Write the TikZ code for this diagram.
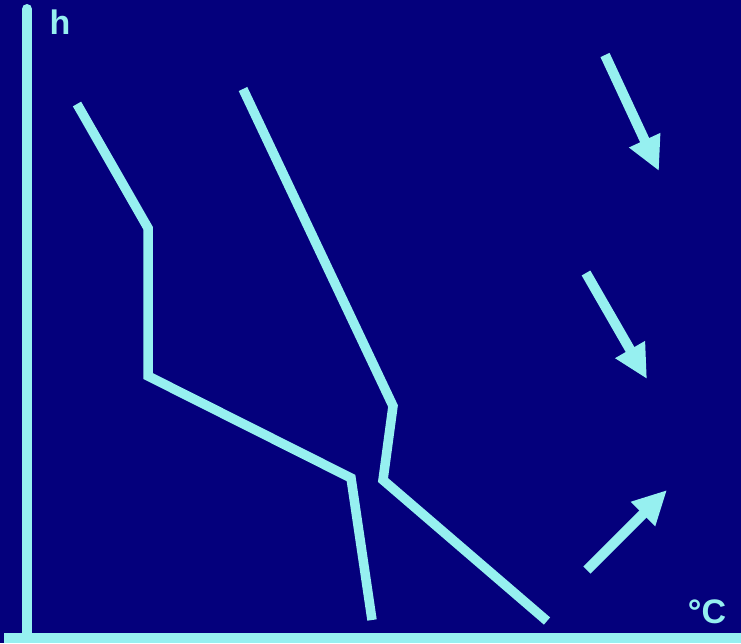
\documentclass[tikz,border=0pt]{standalone}
\usepackage{fontspec}
\setmainfont{Liberation Sans}
\usetikzlibrary{arrows.meta}
\definecolor{bgnavy}{RGB}{4,0,124}
\definecolor{lcyan}{RGB}{150,240,240}
\begin{document}
\begin{tikzpicture}[x=1pt,y=-1pt,
  curve/.style={draw=lcyan,line width=9.5pt,line join=miter,line cap=butt},
  axisline/.style={draw=lcyan,line width=10pt},
  wind/.style={draw=lcyan,line width=10pt,-{Triangle[length=34pt,width=32pt,fill=lcyan]}},
  lbl/.style={text=lcyan,font=\fontsize{34}{34}\selectfont\bfseries,inner sep=0pt}]
\fill[bgnavy] (0,0) rectangle (741,643);
\useasboundingbox (0,0) rectangle (741,643);
% axes
\coordinate (ytop) at (27,9);
\coordinate (origin) at (27,638);
\coordinate (xleft) at (4,638);
\coordinate (xright) at (741,638);
\draw[axisline,line cap=round] (ytop) -- ([yshift=5pt]origin);
\draw[axisline] (xleft) -- (xright);
\node[lbl] (h) at (60,22) {h};
\node[lbl] (deg) at (707,612) {°C};
% curves
\draw[curve] (77,104) -- (148,228) -- (148,376) -- (351,478) -- (372,620);
\draw[curve] (243,89) -- (393,406) -- (383,480) -- (547,621);
% arrows
\coordinate (a1s) at (605,55);  \coordinate (a1e) at (659,171);
\coordinate (a2s) at (586,273); \coordinate (a2e) at (647,379);
\coordinate (a3s) at (587,570); \coordinate (a3e) at (667,490);
\draw[wind] (a1s) -- (a1e);
\draw[wind] (a2s) -- (a2e);
\draw[wind] (a3s) -- (a3e);
\end{tikzpicture}
\end{document}
